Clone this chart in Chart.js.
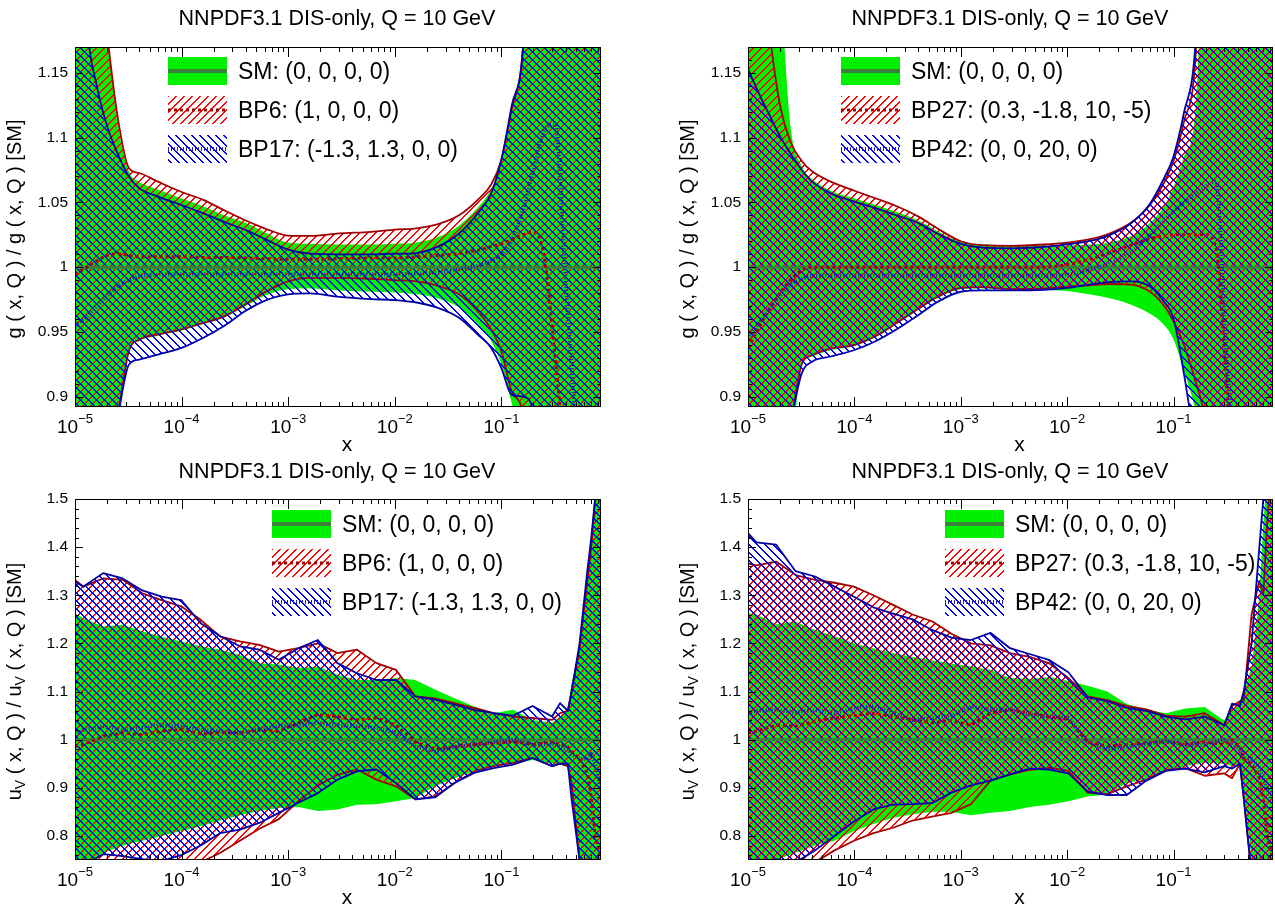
<!DOCTYPE html>
<html><head><meta charset="utf-8">
<script src="https://cdn.jsdelivr.net/npm/chart.js@4/dist/chart.umd.min.js"></script>
<style>
html,body{margin:0;padding:0;background:#fff;width:1275px;height:907px;overflow:hidden}
canvas{position:absolute}
</style></head><body>
<canvas id="c0" width="637" height="453" style="left:0;top:0"></canvas>
<canvas id="c1" width="602" height="453" style="left:673px;top:0"></canvas>
<canvas id="c2" width="637" height="454" style="left:0;top:453px"></canvas>
<canvas id="c3" width="602" height="454" style="left:673px;top:453px"></canvas>
<script>
// ---------------- DATA ----------------
const panelTitle = 'NNPDF3.1 DIS-only, Q = 10 GeV';
const xTickVals = [1e-5, 1e-4, 1e-3, 1e-2, 1e-1];
const xTickExp = ['\u22125', '\u22124', '\u22123', '\u22122', '\u22121'];
const legendTop1 = ['SM: (0, 0, 0, 0)', 'BP6: (1, 0, 0, 0)', 'BP17: (-1.3, 1.3, 0, 0)'];
const legendTop2 = ['SM: (0, 0, 0, 0)', 'BP27: (0.3, -1.8, 10, -5)', 'BP42: (0, 0, 20, 0)'];
const yTitleG = [['g ( x, Q ) / g ( x, Q ) [SM]', 0]];
const yTitleU = [['u', 0], ['V', 1], [' ( x, Q ) / u', 0], ['V', 1], [' ( x, Q ) [SM]', 0]];

const smCentralX = [1e-5, 0.86];
const smCentralY = [1, 1];

// gluon grid (top panels)
const xGluon = [1e-5, 1.3e-5, 1.6e-5, 2e-5, 2.5e-5, 3.2e-5, 4e-5, 6e-5, 1e-4, 1.6e-4, 2.5e-4, 4e-4, 6e-4, 1e-3, 1.6e-3, 3e-3, 6e-3, 1e-2, 1.6e-2, 2.5e-2, 4e-2, 6e-2, 8e-2, 0.1, 0.125, 0.16, 0.2, 0.25, 0.32, 0.4, 0.5, 0.63, 0.86];

// top-left: SM / BP6 / BP17
const gSmUp1 = [1.35,1.30,1.25,1.18,1.112,1.074,1.066,1.060,1.053,1.047,1.040,1.034,1.027,1.019,1.018,1.0175,1.0175,1.018,1.019,1.023,1.032,1.046,1.060,1.080,1.12,1.175,1.35,1.35,1.35,1.35,1.35,1.35,1.35];
const gSmLo1 = [0.80,0.80,0.80,0.83,0.87,0.934,0.943,0.947,0.951,0.956,0.961,0.970,0.978,0.983,0.9835,0.982,0.981,0.9805,0.979,0.976,0.969,0.956,0.943,0.925,0.895,0.86,0.80,0.80,0.80,0.80,0.80,0.80,0.80];
const gBp6Up = [1.35,1.30,1.25,1.18,1.117,1.0766,1.0727,1.066,1.058,1.052,1.044,1.036,1.030,1.0244,1.0241,1.026,1.0273,1.029,1.030,1.033,1.040,1.052,1.0636,1.083,1.122,1.171,1.35,1.35,1.35,1.35,1.35,1.35,1.35];
const gBp6Lo = [0.80,0.80,0.82,0.86,0.885,0.935,0.944,0.948,0.952,0.957,0.962,0.9715,0.9805,0.989,0.9917,0.9917,0.991,0.990,0.989,0.9857,0.979,0.966,0.952,0.935,0.904,0.886,0.80,0.80,0.80,0.80,0.80,0.80,0.80];
const gBp17Up = [1.35,1.185,1.140,1.109,1.088,1.070,1.061,1.0545,1.048,1.0415,1.035,1.0286,1.022,1.0135,1.0104,1.0099,1.0099,1.0104,1.0109,1.0156,1.026,1.0415,1.057,1.083,1.1246,1.171,1.35,1.35,1.35,1.35,1.35,1.35,1.35];
const gBp17Lo = [0.80,0.80,0.82,0.86,0.885,0.9247,0.9286,0.9325,0.9377,0.9455,0.9546,0.9663,0.974,0.979,0.9797,0.977,0.9753,0.9746,0.9727,0.9688,0.961,0.948,0.9377,0.922,0.9014,0.900,0.888,0.80,0.80,0.80,0.80,0.80,0.80];
const gBp6C = [0.9948,1.000,1.005,1.009,1.0104,1.009,1.008,1.008,1.008,1.0075,1.0075,1.007,1.0065,1.006,1.006,1.0065,1.007,1.007,1.008,1.009,1.0105,1.013,1.016,1.018,1.021,1.025,1.027,1.01,0.93,0.85,0.80,0.80,0.80];
const gBp17C = [0.955,0.962,0.970,0.978,0.985,0.990,0.993,0.994,0.9945,0.9945,0.9945,0.9945,0.9945,0.9945,0.9945,0.9945,0.9945,0.9945,0.995,0.996,0.998,1.001,1.005,1.01,1.02,1.045,1.075,1.105,1.11,0.99,0.88,0.80,0.80];

// top-right: SM / BP27 / BP42
const gSmUp2 = [1.35,1.35,1.30,1.22,1.11,1.078,1.068,1.059,1.053,1.048,1.0425,1.036,1.028,1.0195,1.0175,1.017,1.0168,1.0168,1.0175,1.019,1.024,1.034,1.046,1.062,1.085,1.12,1.30,1.35,1.35,1.35,1.35,1.35,1.35];
const gSmLo2 = [0.80,0.80,0.80,0.82,0.85,0.924,0.931,0.936,0.939,0.946,0.956,0.967,0.976,0.983,0.9835,0.983,0.9825,0.9815,0.979,0.976,0.971,0.964,0.956,0.944,0.92,0.89,0.85,0.80,0.80,0.80,0.80,0.80,0.80];
const gBp27Up = [1.35,1.25,1.18,1.125,1.097,1.082,1.074,1.066,1.059,1.053,1.047,1.039,1.030,1.020,1.017,1.0165,1.0175,1.019,1.0215,1.026,1.0345,1.048,1.064,1.082,1.112,1.16,1.35,1.35,1.35,1.35,1.35,1.35,1.35];
const gBp27Lo = [0.80,0.80,0.82,0.85,0.878,0.925,0.932,0.937,0.940,0.947,0.957,0.968,0.977,0.984,0.9845,0.983,0.9835,0.985,0.986,0.987,0.9865,0.981,0.971,0.958,0.94,0.912,0.88,0.80,0.80,0.80,0.80,0.80,0.80];
const gBp42Up = [1.153,1.132,1.117,1.101,1.088,1.075,1.066,1.057,1.0506,1.0454,1.040,1.034,1.026,1.018,1.015,1.0145,1.0156,1.0177,1.020,1.0247,1.034,1.049,1.0675,1.0857,1.119,1.171,1.35,1.35,1.35,1.35,1.35,1.35,1.35];
const gBp42Lo = [0.80,0.80,0.82,0.85,0.88,0.918,0.927,0.931,0.936,0.943,0.952,0.963,0.973,0.981,0.982,0.982,0.9825,0.984,0.9865,0.9885,0.989,0.985,0.974,0.96,0.918,0.86,0.80,0.80,0.80,0.80,0.80,0.80,0.80];
const gBp27C = [0.938,0.955,0.968,0.980,0.990,0.9975,1.0,1.0,1.0,1.0,1.0,1.0,1.0,1.0,1.0,1.0,1.0,1.002,1.006,1.011,1.017,1.022,1.024,1.025,1.025,1.025,1.025,1.015,0.90,0.80,0.80,0.80,0.80];
const gBp42C = [0.945,0.958,0.968,0.978,0.986,0.991,0.993,0.9935,0.9935,0.9935,0.9935,0.9935,0.9935,0.9935,0.9935,0.9935,0.9935,0.994,0.998,1.003,1.012,1.025,1.035,1.043,1.05,1.057,1.062,1.066,0.92,0.85,0.80,0.80,0.80];

// u_V grid (bottom panels)
const xUv = [1e-5, 1.2e-5, 1.84e-5, 2.8e-5, 4.27e-5, 6.5e-5, 9.9e-5, 1.51e-4, 2.31e-4, 3.52e-4, 5.36e-4, 8.17e-4, 1.245e-3, 1.9e-3, 2.9e-3, 4.42e-3, 6.73e-3, 1.026e-2, 1.56e-2, 2.38e-2, 3.63e-2, 5.55e-2, 8.45e-2, 0.129, 0.196, 0.299, 0.355, 0.42, 0.456, 0.541, 0.64, 0.697, 0.757, 0.86];

// bottom-left: SM / BP6 / BP17
const uSmUp1 = [1.263,1.252,1.235,1.239,1.225,1.214,1.204,1.194,1.187,1.176,1.159,1.156,1.149,1.152,1.135,1.124,1.124,1.128,1.124,1.104,1.086,1.069,1.055,1.062,1.041,1.035,1.048,1.062,1.118,1.187,1.325,1.394,1.5,1.6];
const uSmLo1 = [0.70,0.73,0.765,0.78,0.79,0.80,0.81,0.82,0.832,0.843,0.852,0.858,0.86,0.852,0.855,0.865,0.866,0.872,0.879,0.903,0.92,0.935,0.945,0.95,0.958,0.95,0.948,0.945,0.88,0.75,0.65,0.65,0.65,0.65];
const uBp6Up = [1.332,1.318,1.335,1.332,1.304,1.290,1.277,1.249,1.214,1.204,1.197,1.183,1.19,1.20,1.18,1.187,1.159,1.145,1.09,1.086,1.076,1.066,1.055,1.048,1.045,1.041,1.055,1.06,1.10,1.19,1.33,1.40,1.5,1.6];
const uBp6Lo = [0.70,0.72,0.745,0.745,0.74,0.735,0.735,0.745,0.765,0.79,0.815,0.835,0.872,0.905,0.927,0.938,0.917,0.903,0.876,0.882,0.910,0.934,0.945,0.952,0.962,0.945,0.95,0.945,0.91,0.75,0.65,0.65,0.65,0.65];
const uBp17Up = [1.328,1.318,1.346,1.335,1.31,1.297,1.29,1.242,1.215,1.194,1.187,1.166,1.19,1.207,1.159,1.138,1.124,1.124,1.09,1.083,1.073,1.062,1.055,1.05,1.07,1.048,1.076,1.06,1.10,1.20,1.35,1.42,1.5,1.6];
const uBp17Lo = [0.72,0.74,0.762,0.758,0.752,0.748,0.76,0.78,0.806,0.813,0.827,0.848,0.869,0.889,0.917,0.934,0.938,0.910,0.876,0.880,0.910,0.931,0.941,0.948,0.962,0.945,0.95,0.95,0.876,0.75,0.65,0.65,0.65,0.65];
const uBp6C = [0.986,0.99,1.007,1.014,1.01,1.018,1.021,1.012,1.015,1.014,1.02,1.017,1.035,1.052,1.048,1.041,1.045,1.03,0.995,0.98,0.985,0.99,0.992,0.996,0.99,0.995,0.99,0.985,0.975,0.96,0.93,0.88,0.80,0.75];
const uBp17C = [1.01,1.02,1.028,1.02,1.025,1.03,1.028,1.02,1.018,1.014,1.022,1.028,1.03,1.035,1.03,1.028,1.025,1.014,0.986,0.976,0.985,0.99,0.995,1.0,0.99,0.992,0.985,0.98,0.97,0.96,0.96,0.97,0.95,0.90];

// bottom-right: SM / BP27 / BP42
const uSmUp2 = [1.263,1.26,1.24,1.245,1.228,1.215,1.20,1.19,1.18,1.172,1.165,1.158,1.152,1.145,1.128,1.126,1.13,1.122,1.112,1.10,1.074,1.062,1.055,1.065,1.068,1.04,1.06,1.08,1.10,1.15,1.3,1.45,1.55,1.6];
const uSmLo2 = [0.70,0.72,0.75,0.765,0.78,0.79,0.81,0.825,0.838,0.845,0.85,0.85,0.843,0.848,0.852,0.86,0.865,0.872,0.882,0.886,0.91,0.917,0.934,0.945,0.952,0.95,0.945,0.95,0.90,0.75,0.65,0.65,0.65,0.65];
const uBp27Up = [1.366,1.362,1.37,1.342,1.332,1.326,1.318,1.30,1.28,1.26,1.246,1.22,1.2,1.196,1.18,1.172,1.159,1.128,1.09,1.082,1.07,1.063,1.05,1.048,1.055,1.03,1.07,1.08,1.08,1.26,1.33,1.30,1.45,1.6];
const uBp27Lo = [0.70,0.70,0.72,0.73,0.745,0.77,0.79,0.806,0.817,0.832,0.84,0.848,0.866,0.915,0.928,0.937,0.942,0.935,0.89,0.887,0.903,0.917,0.937,0.941,0.925,0.93,0.92,0.95,0.88,0.72,0.65,0.65,0.65,0.65];
const uBp42Up = [1.429,1.41,1.405,1.35,1.339,1.318,1.297,1.275,1.262,1.25,1.228,1.212,1.207,1.222,1.19,1.178,1.166,1.14,1.088,1.08,1.066,1.06,1.048,1.042,1.048,1.03,1.075,1.07,1.10,1.20,1.40,1.5,1.55,1.6];
const uBp42Lo = [0.72,0.745,0.752,0.745,0.77,0.80,0.83,0.855,0.865,0.866,0.868,0.89,0.905,0.915,0.928,0.94,0.938,0.93,0.892,0.885,0.885,0.915,0.935,0.94,0.932,0.945,0.94,0.95,0.88,0.72,0.65,0.65,0.65,0.65];
const uBp27C = [1.014,1.018,1.03,1.028,1.038,1.045,1.05,1.055,1.048,1.041,1.035,1.04,1.03,1.055,1.062,1.055,1.048,1.042,0.995,0.986,0.99,0.993,0.996,0.99,0.995,0.99,1.0,0.985,0.96,0.95,0.92,0.88,0.80,0.75];
const uBp42C = [1.055,1.06,1.062,1.056,1.062,1.055,1.066,1.069,1.055,1.041,1.045,1.05,1.069,1.062,1.063,1.052,1.048,1.045,0.995,0.98,0.985,0.99,0.997,0.988,0.99,1.0,0.99,0.98,0.96,0.96,0.94,0.92,0.90,0.88];

// ---------------- STYLE ----------------
const FONT = '"Liberation Sans", Arial, Helvetica, sans-serif';
const GREEN = '#00f000';
const SMLINE = '#3a7f3a';
const RED_EDGE = '#a00000';
const BLUE_EDGE = '#0000a0';
const RED_DOT = '#a80000';
const BLUE_DOT = '#1e1eb0';

// crisp hatch tiles, two pixels per row so the colour stays visible
function hatch(rgb, dir) {
  const s = 8;
  const c = document.createElement('canvas'); c.width = s; c.height = s;
  const g = c.getContext('2d');
  const img = g.createImageData(s, s);
  const put = (x, y) => {
    const o = (y * s + ((x + s) % s)) * 4;
    img.data[o] = rgb[0]; img.data[o + 1] = rgb[1]; img.data[o + 2] = rgb[2]; img.data[o + 3] = 255;
  };
  for (let i = 0; i < s; i++) {
    const y = dir === '/' ? (s - 1 - i) : i;
    put(i, y); put(i + 1, y);
  }
  g.putImageData(img, 0, 0);
  return g.createPattern(c, 'repeat');
}
const RED_HATCH = hatch([255, 0, 0], '/');
const BLUE_HATCH = hatch([0, 0, 255], '\\');

function pts(xs, ys) { return xs.map((x, i) => ({x: x, y: ys[i]})); }

function makePlugin(cfg) {
  return {
    id: 'rootStyle',
    afterDatasetsDraw(chart) {
      const ctx = chart.ctx, a = chart.chartArea, xs = chart.scales.x, ys = chart.scales.y;
      ctx.save();
      ctx.strokeStyle = '#000'; ctx.lineWidth = 1;
      ctx.beginPath();
      for (const dv of xTickVals) {
        for (let m = 1; m <= 9; m++) {
          const v = dv * m;
          if (v < xs.min * 0.999 || v > xs.max) continue;
          const px = Math.round(xs.getPixelForValue(v)) + 0.5;
          const len = m === 1 ? 10 : 5;
          ctx.moveTo(px, a.bottom); ctx.lineTo(px, a.bottom - len);
          ctx.moveTo(px, a.top); ctx.lineTo(px, a.top + len);
        }
      }
      const k0 = Math.ceil(cfg.yMin / cfg.yMinor - 1e-6), k1 = Math.floor(cfg.yMax / cfg.yMinor + 1e-6);
      for (let k = k0; k <= k1; k++) {
        const v = k * cfg.yMinor;
        const py = Math.round(ys.getPixelForValue(v)) + 0.5;
        const len = (k % 5 === 0) ? 8 : 4;
        ctx.moveTo(a.left, py); ctx.lineTo(a.left + len, py);
        ctx.moveTo(a.right, py); ctx.lineTo(a.right - len, py);
      }
      ctx.stroke();
      ctx.strokeRect(a.left + 0.5, a.top + 0.5, a.right - a.left - 1, a.bottom - a.top - 1);

      // legend
      const lx = cfg.legX, rows = [71, 110, 149], sw = 59, sh = 28;
      ctx.fillStyle = GREEN; ctx.fillRect(lx, rows[0] - sh / 2, sw, sh);
      ctx.strokeStyle = SMLINE; ctx.lineWidth = 4; ctx.setLineDash([]);
      ctx.beginPath(); ctx.moveTo(lx, rows[0]); ctx.lineTo(lx + sw, rows[0]); ctx.stroke();
      ctx.fillStyle = RED_HATCH; ctx.fillRect(lx, rows[1] - sh / 2, sw, sh);
      ctx.strokeStyle = RED_DOT; ctx.lineWidth = 3; ctx.setLineDash([3, 3]);
      ctx.beginPath(); ctx.moveTo(lx, rows[1]); ctx.lineTo(lx + sw, rows[1]); ctx.stroke();
      ctx.fillStyle = BLUE_HATCH; ctx.fillRect(lx, rows[2] - sh / 2, sw, sh);
      ctx.strokeStyle = BLUE_DOT; ctx.lineWidth = 4; ctx.setLineDash([1, 2]);
      ctx.beginPath(); ctx.moveTo(lx, rows[2]); ctx.lineTo(lx + sw, rows[2]); ctx.stroke();
      ctx.setLineDash([]);
      ctx.fillStyle = '#000'; ctx.font = '23px ' + FONT; ctx.textAlign = 'left'; ctx.textBaseline = 'alphabetic';
      cfg.legend.forEach((t, i) => ctx.fillText(t, lx + 70, rows[i] + 8));
      ctx.restore();
    },
    afterDraw(chart) {
      const ctx = chart.ctx, a = chart.chartArea, xs = chart.scales.x;
      ctx.save();
      ctx.fillStyle = '#000'; ctx.textBaseline = 'alphabetic';
      ctx.font = '21.5px ' + FONT; ctx.textAlign = 'center';
      ctx.fillText(panelTitle, cfg.titleX, 25);
      ctx.textAlign = 'left';
      xTickVals.forEach((v, i) => {
        const px = xs.getPixelForValue(v);
        ctx.font = '19px ' + FONT; const w1 = ctx.measureText('10').width;
        ctx.font = '13px ' + FONT; const w2 = ctx.measureText(xTickExp[i]).width;
        const x0 = px - (w1 + w2) / 2;
        ctx.font = '19px ' + FONT; ctx.fillText('10', x0, a.bottom + 26);
        ctx.font = '13px ' + FONT; ctx.fillText(xTickExp[i], x0 + w1, a.bottom + 16);
      });
      ctx.font = '21px ' + FONT; ctx.textAlign = 'center';
      ctx.fillText('x', (a.left + a.right) / 2 + 9, a.bottom + 44);
      const big = '20px ' + FONT, small = '14px ' + FONT;
      let total = 0;
      cfg.yTitle.forEach(([t, sub]) => { ctx.font = sub ? small : big; total += ctx.measureText(t).width; });
      ctx.translate(15, (a.top + a.bottom) / 2 + 2);
      ctx.rotate(-Math.PI / 2);
      ctx.textAlign = 'left'; ctx.textBaseline = 'middle';
      let cx = -total / 2;
      cfg.yTitle.forEach(([t, sub]) => {
        ctx.font = sub ? small : big;
        ctx.fillText(t, cx, sub ? 6 : 0);
        cx += ctx.measureText(t).width;
      });
      ctx.restore();
    }
  };
}

function buildChart(id, cfg) {
  const xs = cfg.xs, d = cfg.d;
  const common = {pointRadius: 0, borderJoinStyle: 'round', clip: 0,
                  cubicInterpolationMode: cfg.smooth ? 'monotone' : 'default', tension: 0};
  const datasets = [
    Object.assign({label: 'SM upper', data: pts(xs, d.smUp), borderWidth: 0, borderColor: 'rgba(0,0,0,0)', backgroundColor: GREEN, fill: '+1', order: 9}, common),
    Object.assign({label: 'SM lower', data: pts(xs, d.smLo), borderWidth: 0, borderColor: 'rgba(0,0,0,0)', fill: false, order: 9}, common),
    Object.assign({label: cfg.nameA + ' upper', data: pts(xs, d.aUp), borderWidth: 1.8, borderColor: RED_EDGE, backgroundColor: RED_HATCH, fill: '+1', order: 8}, common),
    Object.assign({label: cfg.nameA + ' lower', data: pts(xs, d.aLo), borderWidth: 1.8, borderColor: RED_EDGE, fill: false, order: 8}, common),
    Object.assign({label: cfg.nameB + ' upper', data: pts(xs, d.bUp), borderWidth: 1.8, borderColor: BLUE_EDGE, backgroundColor: BLUE_HATCH, fill: '+1', order: 7}, common),
    Object.assign({label: cfg.nameB + ' lower', data: pts(xs, d.bLo), borderWidth: 1.8, borderColor: BLUE_EDGE, fill: false, order: 7}, common),
    Object.assign({}, common, {label: 'SM central', data: pts(smCentralX, smCentralY), borderWidth: 3, borderColor: SMLINE, fill: false, order: 3}),
    Object.assign({label: cfg.nameA + ' central', data: pts(xs, d.aC), borderWidth: 3, borderColor: RED_DOT, borderDash: [3, 3], fill: false, order: 2}, common),
    Object.assign({label: cfg.nameB + ' central', data: pts(xs, d.bC), borderWidth: 4, borderColor: BLUE_DOT, borderDash: [1, 2], fill: false, order: 1}, common)
  ];
  return new Chart(document.getElementById(id), {
    type: 'line',
    data: {datasets: datasets},
    options: {
      responsive: false, animation: false, devicePixelRatio: 1,
      layout: {padding: {left: 0, top: cfg.padTop, right: cfg.padRight, bottom: 0}},
      plugins: {legend: {display: false}, tooltip: {enabled: false}, title: {display: false}},
      scales: {
        x: {type: 'logarithmic', min: 1e-5, max: 0.86,
            grid: {display: false, drawTicks: false}, border: {display: false},
            ticks: {display: false},
            afterFit: s => { s.height = cfg.xAxisH; }},
        y: {type: 'linear', min: cfg.yMin, max: cfg.yMax,
            grid: {display: false, drawTicks: false}, border: {display: false},
            ticks: {stepSize: cfg.yStep, includeBounds: false, padding: 7, color: '#000',
                    font: {family: FONT, size: 15.5},
                    callback: v => String(+v.toFixed(2))},
            afterFit: s => { s.width = 75; }}
      }
    },
    plugins: [makePlugin(cfg)]
  });
}

buildChart('c0', {xs: xGluon, smooth: true, nameA: 'BP6', nameB: 'BP17',
  d: {smUp: gSmUp1, smLo: gSmLo1, aUp: gBp6Up, aLo: gBp6Lo, bUp: gBp17Up, bLo: gBp17Lo, aC: gBp6C, bC: gBp17C},
  yMin: 0.892, yMax: 1.17, yStep: 0.05, yMinor: 0.01, padTop: 47, padRight: 36, xAxisH: 46,
  legX: 168, legend: legendTop1, titleX: 337, yTitle: yTitleG});
buildChart('c1', {xs: xGluon, smooth: true, nameA: 'BP27', nameB: 'BP42',
  d: {smUp: gSmUp2, smLo: gSmLo2, aUp: gBp27Up, aLo: gBp27Lo, bUp: gBp42Up, bLo: gBp42Lo, aC: gBp27C, bC: gBp42C},
  yMin: 0.892, yMax: 1.17, yStep: 0.05, yMinor: 0.01, padTop: 47, padRight: 2, xAxisH: 46,
  legX: 168, legend: legendTop2, titleX: 337, yTitle: yTitleG});
buildChart('c2', {xs: xUv, smooth: false, nameA: 'BP6', nameB: 'BP17',
  d: {smUp: uSmUp1, smLo: uSmLo1, aUp: uBp6Up, aLo: uBp6Lo, bUp: uBp17Up, bLo: uBp17Lo, aC: uBp6C, bC: uBp17C},
  yMin: 0.75, yMax: 1.5, yStep: 0.1, yMinor: 0.02, padTop: 46, padRight: 36, xAxisH: 47,
  legX: 272, legend: legendTop1, titleX: 337, yTitle: yTitleU});
buildChart('c3', {xs: xUv, smooth: false, nameA: 'BP27', nameB: 'BP42',
  d: {smUp: uSmUp2, smLo: uSmLo2, aUp: uBp27Up, aLo: uBp27Lo, bUp: uBp42Up, bLo: uBp42Lo, aC: uBp27C, bC: uBp42C},
  yMin: 0.75, yMax: 1.5, yStep: 0.1, yMinor: 0.02, padTop: 46, padRight: 2, xAxisH: 47,
  legX: 272, legend: legendTop2, titleX: 337, yTitle: yTitleU});
</script>
</body></html>
